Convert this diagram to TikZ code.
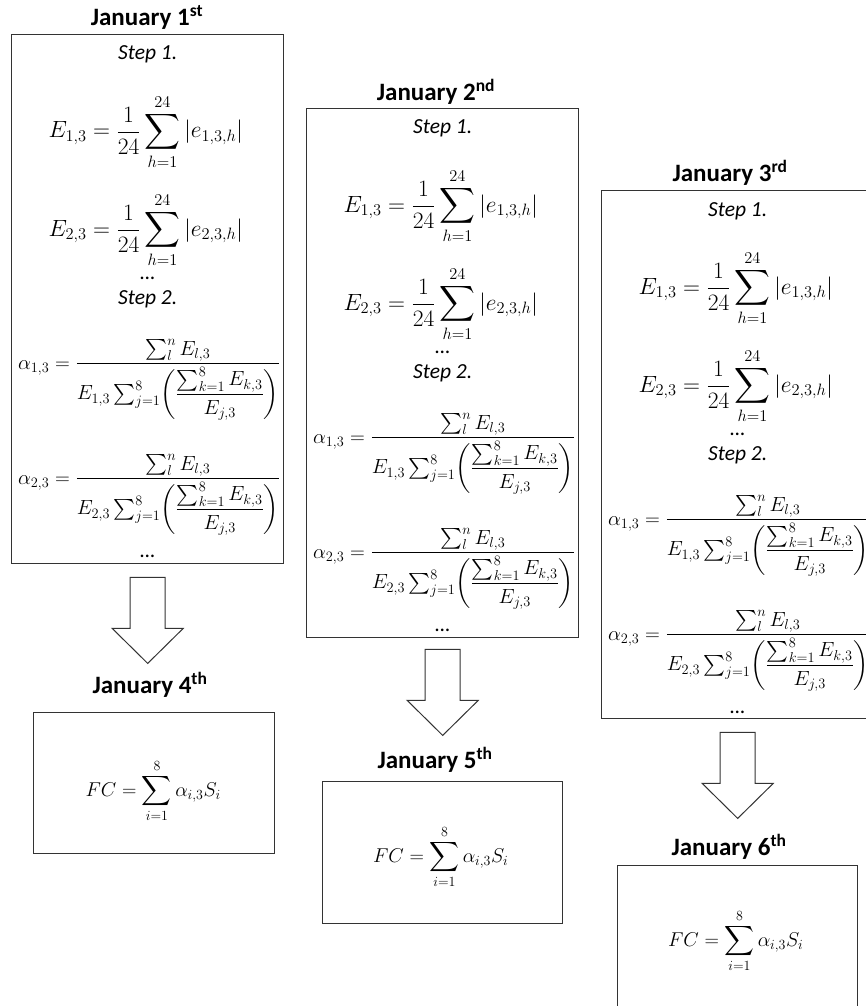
\RequirePackage{fix-cm}
\documentclass[tikz,border=0pt]{standalone}
\usepackage{amsmath}
\usepackage{fontspec}
\newfontfamily\carl{Carlito}
\usetikzlibrary{calc}

% formulas shared by the boxes
\newcommand{\Eeq}[1]{$\displaystyle E_{#1,3}=\frac{1}{24}\sum_{h=1}^{24}\,\lvert e_{#1,3,h}\rvert$}
\newcommand{\alphaeq}[1]{$\displaystyle \alpha_{#1,3}=\frac{\sum_{l}^{n}E_{l,3}}{E_{#1,3}\sum_{j=1}^{8}\biggl(\dfrac{\textstyle\sum_{k=1}^{8}E_{k,3}}{E_{j,3}}\biggr)}$}
\newcommand{\FCeq}{$\displaystyle FC=\sum_{i=1}^{8}\alpha_{i,3}S_i$}

\tikzset{
  daybox/.style={draw=black!80, line width=1.4pt, inner sep=0pt, anchor=north west},
  daytitle/.style={font=\carl\bfseries\fontsize{25}{30}\selectfont, inner sep=0pt},
  steptext/.style={font=\carl\itshape\fontsize{21.5}{25}\selectfont, inner sep=0pt, anchor=base},
  eqn/.style={font=\fontsize{23.5}{28}\selectfont, inner sep=0pt},
  fraceqn/.style={font=\fontsize{20.5}{25}\selectfont, inner sep=0pt},
  fceqn/.style={font=\fontsize{20}{24}\selectfont, inner sep=0pt},
  blk/.style={draw=black!80, line width=1pt, fill=white, line join=miter}
}

% contents of one computation box
\newcommand{\stepsin}[1]{%
  \node[steptext] (#1s1) at ($(#1.north)+(0,26)$) {Step 1.};
  \node[eqn, anchor=base] (#1e1) at ($(#1.north)+(-2,104)$) {\Eeq{1}};
  \node[eqn, anchor=base] (#1e2) at ($(#1.north)+(-2,202)$) {\Eeq{2}};
  \node[steptext] (#1d1) at ($(#1.north)+(0,245)$) {…};
  \node[steptext] (#1s2) at ($(#1.north)+(0,270)$) {Step 2.};
  \node[fraceqn, anchor=base west] (#1a1) at ($(#1.north west)+(7,335)$) {\alphaeq{1}};
  \node[fraceqn, anchor=base west] (#1a2) at ($(#1.north west)+(7,450)$) {\alphaeq{2}};
  \node[steptext] (#1d2) at ($(#1.north)+(0,523)$) {…};
}

% hollow block arrow below a box
\newcommand{\blockdown}[2]{%
  \draw[blk] ($(#1.south)+(-17.5,#2)$) -- ++(35,0) -- ++(0,51) -- ++(18,0)
    -- ++(-35.5,35) -- ++(-35.5,-35) -- ++(18,0) -- cycle;
}

\begin{document}
\begin{tikzpicture}[x=1pt,y=-1pt]
  \useasboundingbox (0,0) rectangle (866,1006);
  \fill[white] (0,0) rectangle (866,1006);
  \clip (0,0) rectangle (866,1006);

  % computation boxes
  \node[daybox, minimum width=272pt, minimum height=529pt] (b1) at (11,34) {};
  \node[daybox, minimum width=272pt, minimum height=529pt] (b2) at (306,108) {};
  \node[daybox, minimum width=272pt, minimum height=528pt] (b3) at (601,190) {};

  % forecast boxes
  \node[daybox, minimum width=241pt, minimum height=141pt] (b4) at (33,712) {};
  \node[daybox, minimum width=240pt, minimum height=142pt] (b5) at (322,781) {};
  \node[daybox, minimum width=240pt, minimum height=142pt] (b6) at (617,865) {};

  % titles
  \node[daytitle] (t1) at (147,17) {January 1\textsuperscript{st}};
  \node[daytitle] (t2) at (436,92) {January 2\textsuperscript{nd}};
  \node[daytitle] (t3) at (730,173) {January 3\textsuperscript{rd}};
  \node[daytitle] (t4) at (150,685) {January 4\textsuperscript{th}};
  \node[daytitle] (t5) at (435,760) {January 5\textsuperscript{th}};
  \node[daytitle] (t6) at (729,847) {January 6\textsuperscript{th}};

  \stepsin{b1}
  \stepsin{b2}
  \stepsin{b3}

  \node[fceqn, anchor=base] (f4) at ($(b4.north)+(-1,84)$) {\FCeq};
  \node[fceqn, anchor=base] (f5) at ($(b5.north)+(-2,81)$) {\FCeq};
  \node[fceqn, anchor=base] (f6) at ($(b6.north)+(-2,81)$) {\FCeq};

  % arrows from each computation box to its forecast
  \blockdown{b1}{13}
  \blockdown{b2}{11}
  \blockdown{b3}{13}
\end{tikzpicture}
\end{document}
